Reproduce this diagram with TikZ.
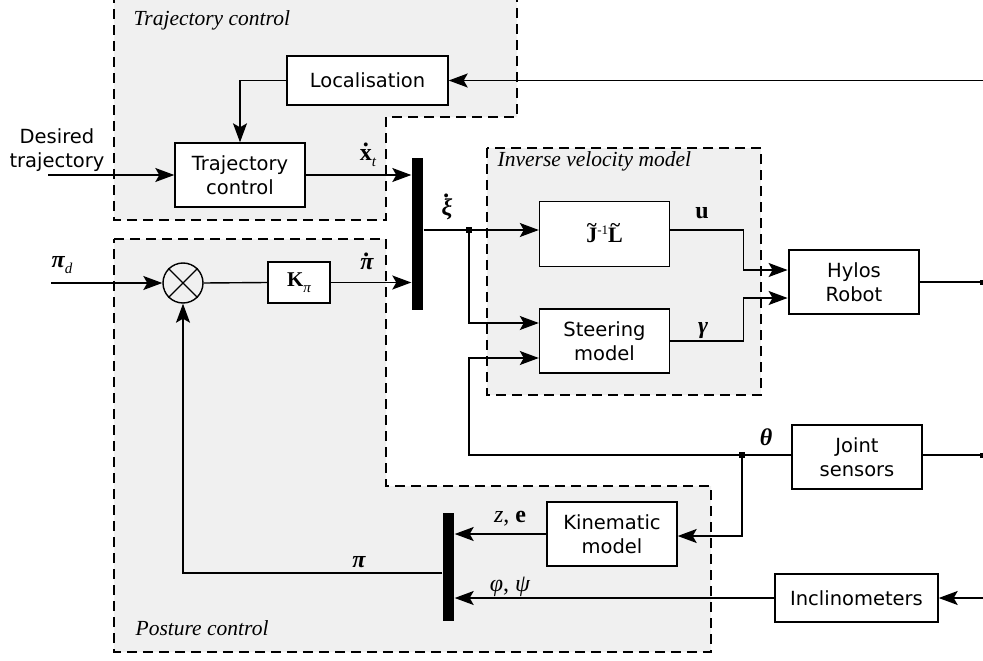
\documentclass[tikz,border=0pt]{standalone}
\usepackage{fontspec}
\setmainfont{DejaVu Sans}
\newfontfamily\titlefont{Liberation Serif}
\newfontfamily\labelfont{Liberation Serif}
\usetikzlibrary{arrows.meta, positioning}

\definecolor{regiongray}{gray}{0.94}

% dot and tilde set above a letter, subscripts
\newcommand\dotabove[2][0.56em]{\ooalign{#2\cr\hidewidth\raisebox{#1}{\bfseries.}\hidewidth\cr}}
\newcommand\tildeabove[1]{\ooalign{#1\cr\hidewidth\raisebox{0.47em}{\fontsize{19}{19}\selectfont\bfseries\char"7E}\hidewidth\cr}}
\newcommand\lowsub[1]{\raisebox{-0.28em}{\fontsize{15}{15}\selectfont\mdseries\itshape #1}}

\begin{document}
\begin{tikzpicture}[x=1pt, y=-1pt, line width=1.4pt,
        >={Stealth[length=19pt, width=14pt, inset=4pt]},
        font=\fontsize{19.5}{24.5}\selectfont]
        \tikzset{
            block/.style={draw, fill=white, minimum width=130pt, minimum height=64pt, align=center, inner sep=2pt},
            region/.style={draw, dash pattern=on 10pt off 6pt, fill=regiongray},
            mux/.style={fill=black, minimum width=11pt, inner sep=0pt},
            junction/.style={fill=black, minimum size=6pt, inner sep=0pt},
            sig/.style={font=\labelfont\fontsize{24}{28}\selectfont, inner sep=0pt},
            title/.style={font=\titlefont\itshape\fontsize{21.5}{25}\selectfont, anchor=west, inner sep=0pt}
        }
        \useasboundingbox (0,0) rectangle (983,661);
        \clip (0,0) rectangle (983,661);

        % Dashed sub-systems
        \path[region] (114,-5) -- (517,-5) -- (517,117) -- (386,117) -- (386,220) -- (114,220) -- cycle;
        \path[region] (487,148) rectangle (761,395);
        \path[region] (114,239) -- (386,239) -- (386,486) -- (711,486) -- (711,652) -- (114,652) -- cycle;
        \node[title] (t_traj) at (133,20) {Trajectory control};
        \node[title] (t_inv) at (497,161) {Inverse velocity model};
        \node[title] (t_post) at (135,628) {Posture control};

        % Blocks
        \node[block, minimum width=161pt, minimum height=49pt] (loc) at (367.5,80.5) {Localisation};
        \node[block] (traj) at (240,175) {Trajectory\\control};
        \node[mux, minimum height=152pt] (mux1) at (417.5,234) {};
        \node[circle, draw, minimum size=40pt, inner sep=0pt] (sum) at (183,283) {};
        \node[block, minimum width=62pt, minimum height=41pt, font=\labelfont\fontsize{21}{25}\selectfont] (kpi) at (299,282.5) {\textbf{K}\lowsub{π}};
        \node[block, minimum height=65pt, font=\labelfont\fontsize{22}{26}\selectfont\bfseries] (jl) at (604.5,234) {\tildeabove{J}\raisebox{0.36em}{\fontsize{13}{13}\selectfont\mdseries -1}\tildeabove{L}};
        \node[block] (steer) at (604.5,341) {Steering\\model};
        \node[block, line width=2.8pt] (robot) at (854,282) {Hylos\\Robot};
        \node[block] (joint) at (857,457) {Joint\\sensors};
        \node[block] (kin) at (612,534) {Kinematic\\model};
        \node[block, minimum width=163pt, minimum height=48pt] (incl) at (856.5,598) {Inclinometers};
        \node[mux, minimum height=108pt] (mux2) at (448.5,567) {};

        \draw (sum.north west) -- (sum.south east) (sum.north east) -- (sum.south west);

        % Free ends
        \coordinate (des_in) at (48,175);
        \coordinate (pid_in) at (51,283);
        \coordinate (loc_in) at (983,80.5);
        \coordinate (incl_in) at (983,598);
        \coordinate (rob_out) at (982,282);
        \coordinate (joint_out) at (982,455);
        \coordinate (xi_split) at (469,230);
        \coordinate (th_split) at (742,455);

        \path[->]
        (des_in) edge (traj.west)
        (loc_in) edge (loc.east)
        (traj.east) edge (traj.east -| mux1.west)
        (pid_in) edge (sum.west)
        (kpi.east) edge (kpi.east -| mux1.west)
        (xi_split) edge (xi_split -| jl.west)
        (incl_in) edge (incl.east)
        (incl.west) edge (incl.west -| mux2.east)
        (kin.west) edge (kin.west -| mux2.east);

        \draw (sum.east) -- (kpi.west);
        \draw[->] (loc.west) -| (traj.north);
        \draw (mux1.east |- xi_split) -- (xi_split);
        \draw[->] (xi_split) |- ([yshift=18pt]steer.west);
        \draw[->] (xi_split -| jl.east) -- ++(73,0) |- ([yshift=12pt]robot.west);
        \draw[->] (steer.east) -- ++(73,0) |- ([yshift=-16pt]robot.west);
        \draw (robot.east) -- (rob_out);
        \draw (joint_out -| joint.east) -- (joint_out);
        \draw (th_split -| joint.west) -- (th_split);
        \draw[->] (th_split) -- ++(-273,0) |- ([yshift=-17pt]steer.west);
        \draw[->] (th_split) |- ([yshift=-2pt]kin.east);
        \draw[->] ([yshift=-6pt]mux2.west) -| (sum.south);

        \node[junction] at (xi_split) {};
        \node[junction] at (th_split) {};
        \node[junction, minimum size=5pt] at (rob_out) {};
        \node[junction, minimum size=5pt] at (joint_out) {};

        % Signal labels
        \node (l_des) at (57,150) [align=center] {Desired\\trajectory};
        \node[sig] (l_xt) at (368,158) {\bfseries\dotabove{x}\lowsub{t}};
        \node[sig] (l_pid) at (62,265) {\bfseries\itshape π\lowsub{d}};
        \node[sig] (l_pidot) at (367,264) {\bfseries\itshape\dotabove{π}};
        \node[sig] (l_xi) at (447,207) {\bfseries\itshape\dotabove[0.76em]{ξ}};
        \node[sig] (l_u) at (702,213) {\bfseries u};
        \node[sig] (l_ga) at (703,331) {\bfseries\itshape γ};
        \node[sig] (l_th) at (766,437) {\bfseries\itshape θ};
        \node[sig] (l_ze) at (510,519) {\itshape z\upshape, \bfseries e};
        \node[sig] (l_pp) at (510,587) {\itshape φ\upshape, \itshape ψ};
        \node[sig] (l_pi) at (359,562) {\bfseries\itshape π};
    \end{tikzpicture}
\end{document}
